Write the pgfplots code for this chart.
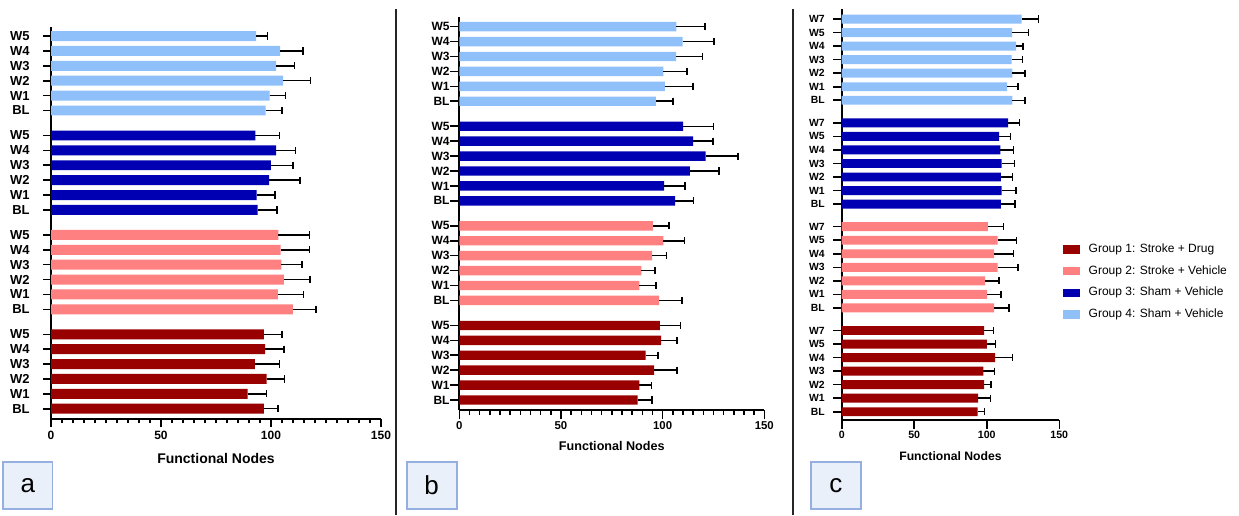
\documentclass[border=0pt]{standalone}
\usepackage{fontspec}
\setmainfont{Liberation Sans}
\usepackage{pgfplots}
\pgfplotsset{compat=1.18}
\definecolor{gA}{RGB}{153,0,0}
\definecolor{gB}{RGB}{255,128,128}
\definecolor{gC}{RGB}{0,0,178}
\definecolor{gD}{RGB}{144,192,250}
\definecolor{boxfill}{RGB}{234,240,250}
\definecolor{boxdraw}{RGB}{150,175,225}
\newcommand\fs[1]{\fontsize{#1}{#1}\selectfont}
\pgfplotsset{
 panel/.style={
  scale only axis, anchor=south west,
  xbar, bar shift=0pt,
  xmin=0, xmax=150, xtick={0,50,100,150},
  axis x line=bottom, axis y line=left,
  axis line style={-, line width=1pt},
  tick align=outside,
  tick style={black, line width=0.8pt},
  /pgf/number format/assume math mode=true,
  clip=false,
 },
 errs/.style={draw=none, error bars/.cd, x dir=plus, x explicit,
   error mark=|,
   error bar style={line width=0.75pt, black},
   error mark options={line width=0.75pt, mark size=1.8pt, black}},
 limg/.style={legend image code/.code={\fill[#1] (0pt,-2.1pt) rectangle (8.3pt,2.1pt);}},
}
\begin{document}
\begin{tikzpicture}
\useasboundingbox (0,0) rectangle (619.5pt,257.5pt);
% separators
\draw[line width=0.9pt, black!85] (197.85pt,0) -- (197.85pt,253pt);
\draw[line width=0.9pt, black!85] (396.65pt,0) -- (396.65pt,253pt);
% panel letters
\draw[fill=boxfill, draw=boxdraw, line width=0.8pt] (1.65pt,3pt) rectangle (26.15pt,26.65pt);
\draw[fill=boxfill, draw=boxdraw, line width=0.8pt] (203.35pt,3pt) rectangle (228.35pt,26.65pt);
\draw[fill=boxfill, draw=boxdraw, line width=0.8pt] (405.5pt,3pt) rectangle (430.35pt,26.65pt);
\node[font=\fs{13}] at (13.9pt,14.8pt) {a};
\node[font=\fs{13}] at (215.85pt,14.8pt) {b};
\node[font=\fs{13}] at (417.9pt,14.8pt) {c};

% ---------------- panel a
\begin{axis}[panel,
  at={(25.5pt,48pt)}, width=165pt, height=196pt,
  ymin=-0.69, ymax=25.65, bar width=0.67,
  minor x tick num=9,
  major tick length=4pt, minor tick length=2pt,
  ytick={0,1,2,3,4,5,6.68,7.68,8.68,9.68,10.68,11.68,13.36,14.36,15.36,16.36,17.36,18.36,20.04,21.04,22.04,23.04,24.04,25.04},
  yticklabels={BL,W1,W2,W3,W4,W5,BL,W1,W2,W3,W4,W5,BL,W1,W2,W3,W4,W5,BL,W1,W2,W3,W4,W5},
  yticklabel style={font=\bfseries\fs{6.5}, inner sep=0pt, xshift=-6.5pt},
  xticklabel style={font=\bfseries\fs{6}, inner sep=0pt, yshift=-2pt},
  xlabel={Functional Nodes},
  xlabel style={font=\bfseries\fs{7}, at={(axis description cs:0.5,0)}, anchor=center, yshift=-19.65pt},
]
\addplot[fill=gA, errs] coordinates {(96.8,0) +- (6.4,0) (89.4,1) +- (8.5,0) (98.0,2) +- (8.2,0) (92.7,3) +- (11.1,0) (97.3,4) +- (8.6,0) (96.8,5) +- (8.2,0)};
\addplot[fill=gB, errs] coordinates {(110.0,6.68) +- (10.5,0) (103.1,7.68) +- (11.7,0) (105.8,8.68) +- (12.0,0) (104.7,9.68) +- (9.4,0) (104.4,10.68) +- (13.2,0) (103.4,11.68) +- (14.1,0)};
\addplot[fill=gC, errs] coordinates {(93.9,13.36) +- (8.8,0) (93.5,14.36) +- (8.3,0) (99.1,15.36) +- (14.0,0) (100.0,16.36) +- (9.9,0) (102.3,17.36) +- (8.8,0) (92.9,18.36) +- (10.9,0)};
\addplot[fill=gD, errs] coordinates {(97.6,20.04) +- (7.3,0) (99.4,21.04) +- (7.2,0) (105.5,22.04) +- (12.4,0) (102.3,23.04) +- (8.4,0) (104.1,24.04) +- (10.4,0) (93.2,25.04) +- (5.3,0)};
\end{axis}

% ---------------- panel b
\begin{axis}[panel,
  at={(229.65pt,52.5pt)}, width=152.5pt, height=196.35pt,
  ymin=-0.67, ymax=25.67, bar width=0.63,
  minor x tick num=9,
  major tick length=4.7pt, minor tick length=2.5pt,
  ytick={0,1,2,3,4,5,6.68,7.68,8.68,9.68,10.68,11.68,13.36,14.36,15.36,16.36,17.36,18.36,20.04,21.04,22.04,23.04,24.04,25.04},
  yticklabels={BL,W1,W2,W3,W4,W5,BL,W1,W2,W3,W4,W5,BL,W1,W2,W3,W4,W5,BL,W1,W2,W3,W4,W5},
  yticklabel style={font=\bfseries\fs{6}, inner sep=0pt, xshift=0pt},
  xticklabel style={font=\bfseries\fs{5.7}, inner sep=0pt, yshift=-1pt},
  xlabel={Functional Nodes},
  xlabel style={font=\bfseries\fs{6.3}, at={(axis description cs:0.5,0)}, anchor=center, yshift=-18pt},
]
\addplot[fill=gA, errs] coordinates {(87.7,0) +- (7.1,0) (88.6,1) +- (5.9,0) (95.8,2) +- (11.3,0) (91.6,3) +- (6.2,0) (99.3,4) +- (7.8,0) (98.6,5) +- (10.2,0)};
\addplot[fill=gB, errs] coordinates {(98.3,6.68) +- (11.1,0) (88.5,7.68) +- (8.2,0) (89.6,8.68) +- (6.7,0) (94.8,9.68) +- (7.1,0) (100.4,10.68) +- (10.4,0) (95.2,11.68) +- (8.0,0)};
\addplot[fill=gC, errs] coordinates {(106.1,13.36) +- (9.1,0) (100.7,14.36) +- (10.4,0) (113.4,15.36) +- (14.4,0) (121.2,16.36) +- (15.8,0) (115.0,17.36) +- (9.8,0) (110.1,18.36) +- (14.9,0)};
\addplot[fill=gD, errs] coordinates {(96.7,20.04) +- (8.5,0) (101.1,21.04) +- (13.9,0) (100.4,22.04) +- (11.5,0) (106.6,23.04) +- (13.0,0) (109.8,24.04) +- (15.4,0) (106.8,25.04) +- (14.1,0)};
\end{axis}

% ---------------- panel c
\begin{axis}[panel,
  at={(420.85pt,47.5pt)}, width=108.8pt, height=205.35pt,
  ymin=-0.61, ymax=29.73, bar width=0.66,
  major tick length=4.3pt,
  ytick={0,1,2,3,4,5,6,7.67,8.67,9.67,10.67,11.67,12.67,13.67,15.34,16.34,17.34,18.34,19.34,20.34,21.34,23.01,24.01,25.01,26.01,27.01,28.01,29.01},
  yticklabels={BL,W1,W2,W3,W4,W5,W7,BL,W1,W2,W3,W4,W5,W7,BL,W1,W2,W3,W4,W5,W7,BL,W1,W2,W3,W4,W5,W7},
  yticklabel style={font=\bfseries\fs{5.2}, inner sep=0pt, xshift=-4pt},
  xticklabel style={font=\bfseries\fs{5.3}, inner sep=0pt, yshift=-1pt},
  xlabel={Functional Nodes},
  xlabel style={font=\bfseries\fs{6.1}, at={(axis description cs:0.5,0)}, anchor=center, yshift=-18pt},
  legend style={at={(1.0156,0.44)}, anchor=north west, draw=none, fill=none, font=\fs{6}, inner sep=0pt, row sep=1pt, column sep=2.5pt},
  legend cell align=left,
]
\addplot[limg=gA, fill=gA, errs] coordinates {(93.7,0) +- (4.9,0) (94.1,1) +- (8.3,0) (98.1,2) +- (4.8,0) (97.6,3) +- (7.6,0) (105.7,4) +- (12.1,0) (100.1,5) +- (5.8,0) (98.1,6) +- (6.4,0)};
\addlegendentry{Group 1: Stroke + Drug}
\addplot[limg=gB, fill=gB, errs] coordinates {(105.0,7.67) +- (10.3,0) (100.3,8.67) +- (9.5,0) (98.8,9.67) +- (9.8,0) (107.5,10.67) +- (14.0,0) (105.0,11.67) +- (13.3,0) (107.5,12.67) +- (13.1,0) (100.8,13.67) +- (10.6,0)};
\addlegendentry{Group 2: Stroke + Vehicle}
\addplot[limg=gC, fill=gC, errs] coordinates {(109.8,15.34) +- (9.6,0) (110.3,16.34) +- (10.0,0) (109.8,17.34) +- (8.0,0) (110.3,18.34) +- (8.9,0) (109.3,19.34) +- (9.0,0) (108.6,20.34) +- (7.9,0) (114.8,21.34) +- (7.6,0)};
\addlegendentry{Group 3: Sham + Vehicle}
\addplot[limg=gD, fill=gD, errs] coordinates {(117.6,23.01) +- (8.7,0) (114.1,24.01) +- (7.4,0) (117.6,25.01) +- (8.9,0) (117.2,26.01) +- (7.3,0) (120.3,27.01) +- (4.6,0) (117.4,28.01) +- (11.5,0) (124.0,29.01) +- (11.5,0)};
\addlegendentry{Group 4: Sham + Vehicle}
\end{axis}
\end{tikzpicture}
\end{document}
